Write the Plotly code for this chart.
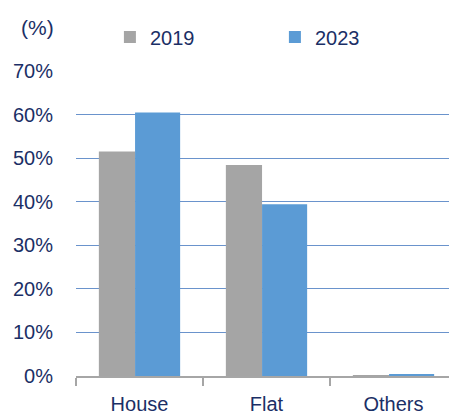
import plotly.graph_objects as go

categories = ["House", "Flat", "Others"]
series_names = ["2019", "2023"]
values_2019 = [51.5, 48.4, 0.1]
values_2023 = [60.5, 39.4, 0.3]
tick_vals = [0, 10, 20, 30, 40, 50, 60, 70]
tick_text = ["0%", "10%", "20%", "30%", "40%", "50%", "60%", "70%"]

navy = "#1B2F66"
font_family = "Liberation Sans, Arial, sans-serif"

W, H = 449, 406
L, T, B = 68, 63, 38
plot_h = H - T - B

fig = go.Figure()
fig.add_trace(go.Bar(
    x=categories, y=values_2019, name=series_names[0],
    marker=dict(color="#A5A5A5", line=dict(width=0)),
    width=0.285, offset=-0.32,
))
fig.add_trace(go.Bar(
    x=categories, y=values_2023, name=series_names[1],
    marker=dict(color="#5B9BD5", line=dict(width=0)),
    width=0.355, offset=-0.035,
))

fig.update_layout(
    width=W, height=H,
    margin=dict(l=L, r=0, t=T, b=B, autoexpand=False),
    paper_bgcolor="white", plot_bgcolor="white",
    font=dict(family=font_family, size=20, color=navy),
    barmode="group",
    showlegend=True,
    legend=dict(
        orientation="h", x=0.089, xanchor="left", y=1 - 29 / H, yref="container",
        yanchor="middle",
        font=dict(size=20, color=navy),
        entrywidth=120, entrywidthmode="pixels",
        itemwidth=30, bgcolor="rgba(0,0,0,0)",
    ),
    xaxis=dict(
        type="category", range=[-0.5, 2.5],
        showline=True, linecolor="#A6A6A6", linewidth=1.5,
        ticks="outside", tickson="boundaries", ticklen=8, tickcolor="#A6A6A6", tickwidth=1.5,
        tickfont=dict(size=20, color=navy), showgrid=False,
        ticklabelstandoff=9,
    ),
    yaxis=dict(
        range=[0, 70], tickvals=tick_vals, ticktext=tick_text,
        showgrid=True, gridcolor="#6A93CC", gridwidth=1,
        zeroline=False, showline=False, ticks="",
        tickfont=dict(size=20, color=navy), ticklabelstandoff=22,
    ),
)
fig.add_annotation(
    text="(%)", xref="paper", yref="paper", x=-0.1, y=1 + (T - 20) / plot_h,
    xanchor="center", yanchor="middle", showarrow=False,
    font=dict(size=21, color=navy),
)

fig.write_html("out.html")
